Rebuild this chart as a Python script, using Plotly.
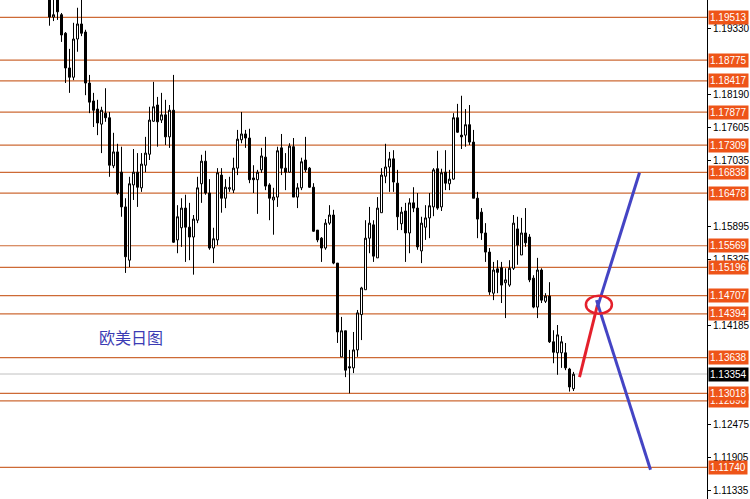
import plotly.graph_objects as go

# ---- candle data (EUR/USD daily) ----
opens = [1.1999,1.1952,1.1987,1.1956,1.1924,1.1864,1.1848,1.1914,1.1940,1.1926,
         1.1838,1.1807,1.1793,1.1767,1.1786,1.1778,1.1695,1.1719,1.1684,1.1624,
         1.1532,1.1662,1.1684,1.1657,1.1696,1.1715,1.1772,1.1800,1.1774,1.1783,
         1.1745,1.1791,1.1567,1.1588,1.1622,1.1589,1.1572,1.1601,1.1664,1.1703,
         1.1648,1.1553,1.1567,1.1679,1.1639,1.1655,1.1653,1.1691,1.1740,1.1750,
         1.1743,1.1674,1.1671,1.1688,1.1710,1.1662,1.1636,1.1641,1.1726,1.1691,
         1.1684,1.1728,1.1641,1.1657,1.1705,1.1691,1.1658,1.1584,1.1570,1.1553,
         1.1596,1.1610,1.1527,1.1365,1.1410,1.1348,1.1346,1.1377,1.1438,1.1481,
         1.1570,1.1593,1.1536,1.1614,1.1677,1.1693,1.1707,1.1665,1.1595,1.1617,
         1.1579,1.1631,1.1622,1.1548,1.1589,1.1605,1.1624,1.1690,1.1624,1.1684,
         1.1664,1.1672,1.1778,1.1748,1.1748,1.1766,1.1736,1.1639,1.1615,1.1579,
         1.1546,1.1475,1.1517,1.1519,1.1493,1.1489,1.1518,1.1586,1.1541,1.1579,
         1.1572,1.1501,1.1451,1.1515,1.1461,1.1470,1.1391,1.1372,1.1372,1.1372,
         1.1344,1.1310]
highs = [1.2007,1.1990,1.1995,1.1959,1.1926,1.1897,1.1942,1.1968,1.1987,1.1930,
         1.1852,1.1821,1.1809,1.1797,1.1829,1.1788,1.1752,1.1733,1.1728,1.1639,
         1.1676,1.1724,1.1717,1.1717,1.1745,1.1797,1.1840,1.1814,1.1821,1.1809,
         1.1800,1.1852,1.1627,1.1639,1.1645,1.1631,1.1610,1.1676,1.1714,1.1721,
         1.1672,1.1588,1.1691,1.1691,1.1672,1.1676,1.1709,1.1757,1.1788,1.1757,
         1.1759,1.1696,1.1688,1.1726,1.1745,1.1665,1.1657,1.1728,1.1750,1.1717,
         1.1734,1.1743,1.1665,1.1709,1.1745,1.1693,1.1665,1.1584,1.1572,1.1603,
         1.1627,1.1619,1.1527,1.1434,1.1410,1.1377,1.1408,1.1446,1.1486,1.1601,
         1.1624,1.1601,1.1641,1.1691,1.1733,1.1719,1.1722,1.1688,1.1624,1.1631,
         1.1639,1.1658,1.1648,1.1607,1.1627,1.1648,1.1691,1.1721,1.1690,1.1722,
         1.1688,1.1786,1.1802,1.1816,1.1793,1.1800,1.1757,1.1650,1.1622,1.1596,
         1.1553,1.1529,1.1532,1.1529,1.1518,1.1532,1.1610,1.1607,1.1605,1.1622,
         1.1577,1.1506,1.1536,1.1518,1.1475,1.1494,1.1411,1.1420,1.1401,1.1389,
         1.1346,1.1339]
lows = [1.1937,1.1945,1.1947,1.1909,1.1838,1.1821,1.1843,1.1892,1.1919,1.1817,
        1.1786,1.1762,1.1748,1.1717,1.1771,1.1676,1.1691,1.1645,1.1607,1.1510,
        1.1520,1.1636,1.1624,1.1650,1.1684,1.1705,1.1771,1.1728,1.1769,1.1731,
        1.1726,1.1562,1.1544,1.1555,1.1529,1.1532,1.1507,1.1596,1.1631,1.1645,
        1.1550,1.1527,1.1558,1.1614,1.1622,1.1650,1.1648,1.1679,1.1734,1.1726,
        1.1665,1.1648,1.1612,1.1683,1.1653,1.1601,1.1576,1.1624,1.1679,1.1653,
        1.1683,1.1641,1.1622,1.1653,1.1684,1.1657,1.1581,1.1563,1.1529,1.1550,
        1.1593,1.1525,1.1389,1.1365,1.1330,1.1302,1.1337,1.1365,1.1394,1.1481,
        1.1544,1.1529,1.1536,1.1614,1.1665,1.1650,1.1650,1.1584,1.1584,1.1529,
        1.1544,1.1615,1.1550,1.1527,1.1567,1.1570,1.1608,1.1619,1.1617,1.1653,
        1.1653,1.1671,1.1752,1.1724,1.1728,1.1731,1.1639,1.1570,1.1567,1.1529,
        1.1472,1.1463,1.1475,1.1458,1.1432,1.1486,1.1515,1.1524,1.1541,1.1555,
        1.1494,1.1449,1.1432,1.1458,1.1458,1.1389,1.1354,1.1334,1.1346,1.1342,
        1.1305,1.1306]
closes = [1.1952,1.1956,1.1961,1.1921,1.1864,1.1848,1.1914,1.1940,1.1924,1.1838,
          1.1805,1.1791,1.1769,1.1791,1.1778,1.1696,1.1719,1.1648,1.1624,1.1538,
          1.1664,1.1684,1.1658,1.1698,1.1717,1.1774,1.1797,1.1771,1.1783,1.1745,
          1.1791,1.1563,1.1607,1.1622,1.1589,1.1572,1.1603,1.1657,1.1703,1.1648,
          1.1553,1.1569,1.1683,1.1639,1.1658,1.1657,1.1691,1.1741,1.1750,1.1743,
          1.1671,1.1671,1.1684,1.1712,1.1660,1.1639,1.1641,1.1721,1.1691,1.1684,
          1.1729,1.1641,1.1657,1.1702,1.1688,1.1658,1.1582,1.1567,1.1553,1.1596,
          1.1610,1.1527,1.1408,1.1410,1.1342,1.1346,1.1377,1.1441,1.1484,1.1570,
          1.1596,1.1539,1.1622,1.1679,1.1693,1.1707,1.1667,1.1607,1.1615,1.1579,
          1.1631,1.1622,1.1555,1.1596,1.1605,1.1626,1.1688,1.1622,1.1683,1.1665,
          1.1672,1.1778,1.1753,1.1745,1.1766,1.1736,1.1639,1.1603,1.1579,1.1546,
          1.1477,1.1515,1.1511,1.1489,1.1498,1.1518,1.1596,1.1558,1.1579,1.1562,
          1.1498,1.1451,1.1515,1.1463,1.1470,1.1391,1.1373,1.1403,1.1391,1.1346,
          1.1313,1.1335]
bars = list(range(len(opens)))

# ---- horizontal levels ----
levels = [1.19513, 1.18775, 1.18417, 1.17877, 1.17309, 1.16838, 1.16478,
          1.15569, 1.15196, 1.14707, 1.14394, 1.13638, 1.12890, 1.13018, 1.11740]
current_price = 1.13354

# ---- right axis tick labels ----
tick_vals = [1.19330, 1.18190, 1.17605, 1.17035, 1.15895, 1.15325,
             1.14185, 1.12475, 1.11905, 1.11335]
tick_text = ["%.5f" % v for v in tick_vals]

# ---- hand-drawn projections ----
red_x = [132.5, 137.0]
red_y = [1.1330, 1.1455]
blue_up_x = [137.0, 147.5]
blue_up_y = [1.1451, 1.1683]
blue_dn_x = [136.75, 150.25]
blue_dn_y = [1.1463, 1.1170]
ellipse_x = [134.1, 140.6]
ellipse_y = [1.14394, 1.14707]

title_text = "欧美日图"

ORANGE_LINE = "#CD6A35"
ORANGE_BOX = "#EE5418"

fig = go.Figure()

fig.add_trace(go.Candlestick(
    x=bars, open=opens, high=highs, low=lows, close=closes,
    increasing=dict(fillcolor="white", line=dict(color="black", width=1)),
    decreasing=dict(fillcolor="black", line=dict(color="black", width=1)),
    whiskerwidth=0, hoverinfo="skip", showlegend=False,
))

fig.add_trace(go.Scatter(x=red_x, y=red_y, mode="lines",
                         line=dict(color="#E4202C", width=3), showlegend=False, hoverinfo="skip"))
fig.add_trace(go.Scatter(x=blue_up_x, y=blue_up_y, mode="lines",
                         line=dict(color="#4444C4", width=3), showlegend=False, hoverinfo="skip"))
fig.add_trace(go.Scatter(x=blue_dn_x, y=blue_dn_y, mode="lines",
                         line=dict(color="#4444C4", width=3), showlegend=False, hoverinfo="skip"))

shapes = []
for v in levels:
    shapes.append(dict(type="line", xref="paper", x0=0, x1=1, yref="y", y0=v, y1=v,
                       line=dict(color=ORANGE_LINE, width=1.2), layer="below"))
shapes.append(dict(type="line", xref="paper", x0=0, x1=1, yref="y",
                   y0=current_price, y1=current_price,
                   line=dict(color="#C0C0C0", width=1), layer="below"))
shapes.append(dict(type="circle", xref="x", yref="y",
                   x0=ellipse_x[0], x1=ellipse_x[1], y0=ellipse_y[0], y1=ellipse_y[1],
                   line=dict(color="#E4202C", width=2.5)))

annotations = []
for v in levels:
    annotations.append(dict(xref="paper", x=1, xanchor="left", xshift=1,
                            yref="y", y=v, yanchor="middle",
                            text="%.5f" % v, showarrow=False,
                            bgcolor=ORANGE_BOX, borderpad=1,
                            font=dict(family="Liberation Sans, Arial", size=10, color="white")))
annotations.append(dict(xref="paper", x=1, xanchor="left", xshift=1,
                        yref="y", y=current_price, yanchor="middle",
                        text="%.5f" % current_price, showarrow=False,
                        bgcolor="black", borderpad=1,
                        font=dict(family="Liberation Sans, Arial", size=10, color="white")))
annotations.append(dict(xref="paper", x=97 / 707, xanchor="left", yref="y", y=1.1400,
                        yanchor="middle", text=title_text, showarrow=False,
                        font=dict(family="Noto Sans CJK SC", size=16, color="#3C3CB4")))

fig.update_layout(
    width=750, height=499,
    margin=dict(l=0, r=43, t=0, b=0),
    paper_bgcolor="white", plot_bgcolor="white",
    boxgap=0.5, boxgroupgap=0,
    shapes=shapes, annotations=annotations,
    showlegend=False,
    xaxis=dict(range=[-12.375, 164.375], visible=False, rangeslider=dict(visible=False),
               fixedrange=True),
    yaxis=dict(range=[1.11195, 1.19814], side="right", showgrid=False, zeroline=False,
               showline=True, linecolor="black", linewidth=1,
               ticks="outside", ticklen=3, tickcolor="black",
               tickvals=tick_vals, ticktext=tick_text,
               tickfont=dict(family="Liberation Sans, Arial", size=10, color="black"),
               fixedrange=True),
)

fig.write_html("out.html", config={"displayModeBar": False},
               post_script="document.body.style.margin='0';document.body.style.overflow='hidden';")
